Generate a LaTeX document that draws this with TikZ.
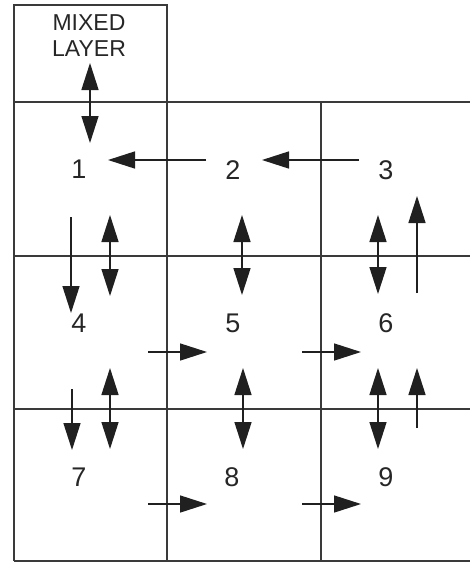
\documentclass[tikz,border=0pt]{standalone}
\usepackage{fontspec}
\setmainfont{Liberation Sans}
\usetikzlibrary{arrows.meta}
\definecolor{gridc}{HTML}{3A3A3A}
\definecolor{arrc}{HTML}{202020}
\tikzset{
  tip/.tip={Triangle[length=27pt,width=17pt]},
  gridline/.style={draw=gridc, line width=1.5pt},
  flow/.style={draw=arrc, line width=1.5pt, -tip},
  dflow/.style={draw=arrc, line width=1.5pt, tip-tip},
  num/.style={font=\fontsize{27}{30}\selectfont, text=black!85, inner sep=0pt, anchor=base},
  lbl/.style={font=\fontsize{23}{26}\selectfont, text=black!85, inner sep=0pt, align=center}
}
\begin{document}
\begin{tikzpicture}[x=1pt,y=-1pt]
\useasboundingbox (0,0) rectangle (470,563);
% grid
\draw[gridline] (14,5) rectangle (167,102);
\draw[gridline] (14,102) -- (470,102);
\draw[gridline] (14,256) -- (470,256);
\draw[gridline] (14,409) -- (470,409);
\draw[gridline, line width=2pt] (14,561) -- (470,561);
\draw[gridline] (14,102) -- (14,561);
\draw[gridline] (167,102) -- (167,561);
\draw[gridline] (321,102) -- (321,561);
% labels
\node[lbl] (ml) at (89,36) {MIXED\\LAYER};
\node[num] (n1) at (79,178) {1};
\node[num] (n2) at (233,179) {2};
\node[num] (n3) at (386,179) {3};
\node[num] (n4) at (79,332) {4};
\node[num] (n5) at (233,332) {5};
\node[num] (n6) at (386,332) {6};
\node[num] (n7) at (79,486) {7};
\node[num] (n8) at (232,486) {8};
\node[num] (n9) at (386,486) {9};
% arrow end points
\coordinate (m0) at (90,63);   \coordinate (m1) at (90,143);
\coordinate (h21a) at (206,160); \coordinate (h21b) at (108,160);
\coordinate (h32a) at (359,160); \coordinate (h32b) at (262,160);
\coordinate (d14a) at (71,217);  \coordinate (d14b) at (71,313);
\coordinate (x14a) at (110,215); \coordinate (x14b) at (110,296);
\coordinate (x25a) at (242,215); \coordinate (x25b) at (242,295);
\coordinate (x36a) at (378,215); \coordinate (x36b) at (378,294);
\coordinate (u63a) at (417,293); \coordinate (u63b) at (417,196);
\coordinate (r45a) at (148,352); \coordinate (r45b) at (207,352);
\coordinate (r56a) at (302,352); \coordinate (r56b) at (361,352);
\coordinate (d47a) at (72,389);  \coordinate (d47b) at (72,450);
\coordinate (x47a) at (110,368); \coordinate (x47b) at (110,449);
\coordinate (x58a) at (243,368); \coordinate (x58b) at (243,449);
\coordinate (x69a) at (378,368); \coordinate (x69b) at (378,449);
\coordinate (u96a) at (417,428); \coordinate (u96b) at (417,368);
\coordinate (r78a) at (148,504); \coordinate (r78b) at (207,504);
\coordinate (r89a) at (302,504); \coordinate (r89b) at (361,504);
% arrows
\draw[dflow] (m0) -- (m1);
\draw[flow] (h21a) -- (h21b);
\draw[flow] (h32a) -- (h32b);
\draw[flow] (d14a) -- (d14b);
\draw[dflow] (x14a) -- (x14b);
\draw[dflow] (x25a) -- (x25b);
\draw[dflow] (x36a) -- (x36b);
\draw[flow] (u63a) -- (u63b);
\draw[flow] (r45a) -- (r45b);
\draw[flow] (r56a) -- (r56b);
\draw[flow] (d47a) -- (d47b);
\draw[dflow] (x47a) -- (x47b);
\draw[dflow] (x58a) -- (x58b);
\draw[dflow] (x69a) -- (x69b);
\draw[flow] (u96a) -- (u96b);
\draw[flow] (r78a) -- (r78b);
\draw[flow] (r89a) -- (r89b);
\end{tikzpicture}
\end{document}
